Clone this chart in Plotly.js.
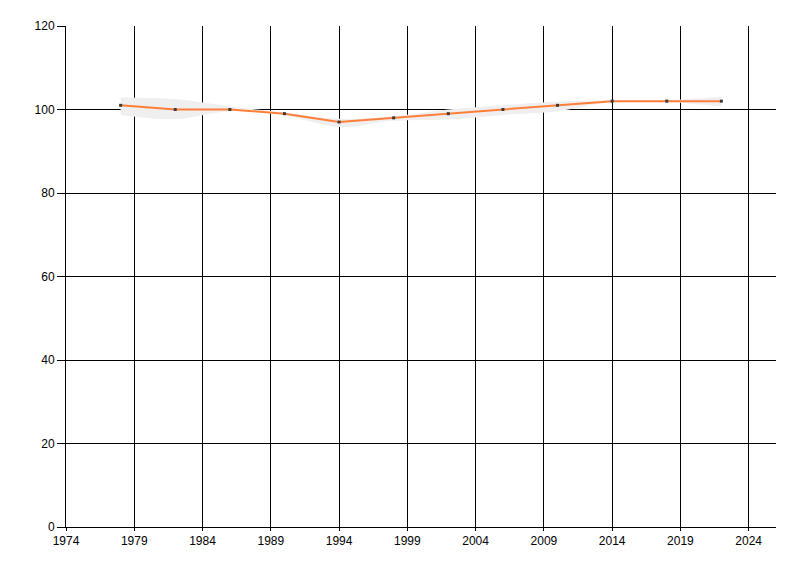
<!DOCTYPE html>
<html>
<head>
<meta charset="utf-8">
<script src="https://cdn.plot.ly/plotly-3.0.1.min.js"></script>
<style>
  html, body { margin: 0; padding: 0; background: #fff; }
  #chart { width: 800px; height: 576px; }
</style>
</head>
<body>
<div id="chart"></div>
<script>
// ── Data ─────────────────────────────────────────────────────────────────────
const years  = [1978, 1982, 1986, 1990, 1994, 1998, 2002, 2006, 2010, 2014, 2018, 2022];
const values = [101, 100, 100, 99, 97, 98, 99, 100, 101, 102, 102, 102];
const upper  = [102.9, 102.5, 100.7, 99.3, 97.8, 98.4, 100.0, 101.0, 101.9, 102.2, 102.2, 103.1];
const lower  = [98.7, 97.7, 99.6, 98.6, 95.8, 97.3, 97.6, 98.7, 99.6, 101.8, 101.8, 100.7];

const xTicks = [1974, 1979, 1984, 1989, 1994, 1999, 2004, 2009, 2014, 2019, 2024];
const yTicks = [0, 20, 40, 60, 80, 100, 120];

const LINE_COLOR = '#ff7f3a';
const BAND_COLOR = '#efefef';

// ── Traces ───────────────────────────────────────────────────────────────────
const bandLow = {
  x: years, y: lower,
  type: 'scatter', mode: 'lines',
  line: { width: 0, shape: 'spline', color: BAND_COLOR },
  hoverinfo: 'skip',
};
const bandHigh = {
  x: years, y: upper,
  type: 'scatter', mode: 'lines',
  fill: 'tonexty', fillcolor: BAND_COLOR,
  line: { width: 0, shape: 'spline', color: BAND_COLOR },
  hoverinfo: 'skip',
};
const mainLine = {
  x: years, y: values,
  type: 'scatter', mode: 'lines+markers',
  line: { color: LINE_COLOR, width: 2 },
  marker: { symbol: 'square', size: 3, color: '#3a3a3a' },
};

// ── Layout ───────────────────────────────────────────────────────────────────
const axisFont = { family: 'Liberation Sans Narrow, Liberation Sans, Arial, sans-serif', size: 12, color: '#000' };

const layout = {
  width: 800, height: 576,
  paper_bgcolor: '#fff',
  plot_bgcolor:  '#fff',
  showlegend: false,
  margin: { l: 66, r: 24, t: 26, b: 49, pad: 0 },
  font: axisFont,
  xaxis: {
    range: [1974, 2026],
    tickvals: xTicks,
    ticktext: xTicks.map(String),
    ticks: 'outside', ticklen: 3, tickcolor: '#000', tickwidth: 1,
    showgrid: true, gridcolor: '#000', gridwidth: 1,
    zeroline: false,
    showline: true, linecolor: '#000', linewidth: 1,
    tickfont: axisFont,
  },
  yaxis: {
    range: [0, 120],
    tickvals: yTicks,
    ticktext: yTicks.map(String),
    ticks: 'outside', ticklen: 8, tickcolor: '#000', tickwidth: 1,
    showgrid: true, gridcolor: '#000', gridwidth: 1,
    zeroline: false,
    showline: true, linecolor: '#000', linewidth: 1,
    tickfont: axisFont,
  },
};

Plotly.newPlot('chart', [bandLow, bandHigh, mainLine], layout, { displayModeBar: false, staticPlot: true });
</script>
</body>
</html>
